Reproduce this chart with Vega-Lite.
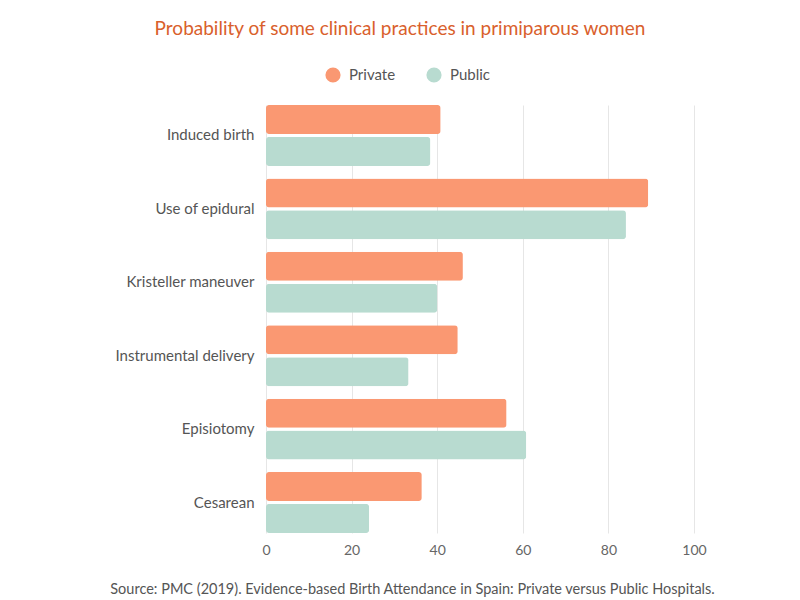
{
  "$schema": "https://vega.github.io/schema/vega-lite/v6.json",
  "width": 428,
  "height": 428,
  "autosize": {"type": "none"},
  "padding": {"left": 266, "top": 105, "right": 106, "bottom": 67},
  "background": "white",
  "title": {
    "text": "Probability of some clinical practices in primiparous women",
    "font": "Lato",
    "fontSize": 19,
    "fontWeight": "normal",
    "color": "#d9602c",
    "anchor": "middle",
    "dx": -80,
    "offset": 28
  },
  "config": {
    "view": {"stroke": null},
    "axis": {"labelFont": "Lato", "titleFont": "Lato"},
    "legend": {"labelFont": "Lato"}
  },
  "data": {
    "values": [
      {"practice": "Induced birth", "sector": "Private", "value": 40.8},
      {"practice": "Induced birth", "sector": "Public", "value": 38.4},
      {"practice": "Use of epidural", "sector": "Private", "value": 89.3},
      {"practice": "Use of epidural", "sector": "Public", "value": 84.1},
      {"practice": "Kristeller maneuver", "sector": "Private", "value": 46.0},
      {"practice": "Kristeller maneuver", "sector": "Public", "value": 40.0},
      {"practice": "Instrumental delivery", "sector": "Private", "value": 44.8},
      {"practice": "Instrumental delivery", "sector": "Public", "value": 33.3},
      {"practice": "Episiotomy", "sector": "Private", "value": 56.2},
      {"practice": "Episiotomy", "sector": "Public", "value": 60.8},
      {"practice": "Cesarean", "sector": "Private", "value": 36.4},
      {"practice": "Cesarean", "sector": "Public", "value": 24.1}
    ]
  },
  "mark": {"type": "bar", "cornerRadius": 3},
  "encoding": {
    "y": {
      "field": "practice",
      "type": "nominal",
      "sort": null,
      "title": null,
      "scale": {"paddingInner": 0.17, "paddingOuter": 0},
      "axis": {
        "ticks": false,
        "domain": false,
        "labelPadding": 12,
        "labelFontSize": 15,
        "labelColor": "#555555"
      }
    },
    "yOffset": {
      "field": "sector",
      "type": "nominal",
      "sort": ["Private", "Public"],
      "scale": {"paddingInner": 0.09, "paddingOuter": 0}
    },
    "x": {
      "field": "value",
      "type": "quantitative",
      "scale": {"domain": [0, 100]},
      "title": "Source: PMC (2019). Evidence-based Birth Attendance in Spain: Private versus Public Hospitals.",
      "axis": {
        "values": [0, 20, 40, 60, 80, 100],
        "ticks": false,
        "domain": false,
        "labelFlush": false,
        "gridColor": "#e6e6e6",
        "labelPadding": 10,
        "labelFontSize": 14,
        "labelColor": "#666666",
        "titleFontSize": 14.5,
        "titleFontWeight": "normal",
        "titleColor": "#555555",
        "titleX": 146,
        "titleY": 56,
        "titleBaseline": "middle"
      }
    },
    "color": {
      "field": "sector",
      "type": "nominal",
      "scale": {"domain": ["Private", "Public"], "range": ["#fa9872", "#b8dbd0"]},
      "legend": {
        "title": null,
        "orient": "none",
        "direction": "horizontal",
        "legendX": 59,
        "legendY": -38,
        "symbolType": "circle",
        "symbolSize": 230,
        "symbolStrokeWidth": 0,
        "labelFontSize": 15,
        "labelColor": "#555555",
        "labelOffset": 8,
        "columnPadding": 30
      }
    }
  }
}
